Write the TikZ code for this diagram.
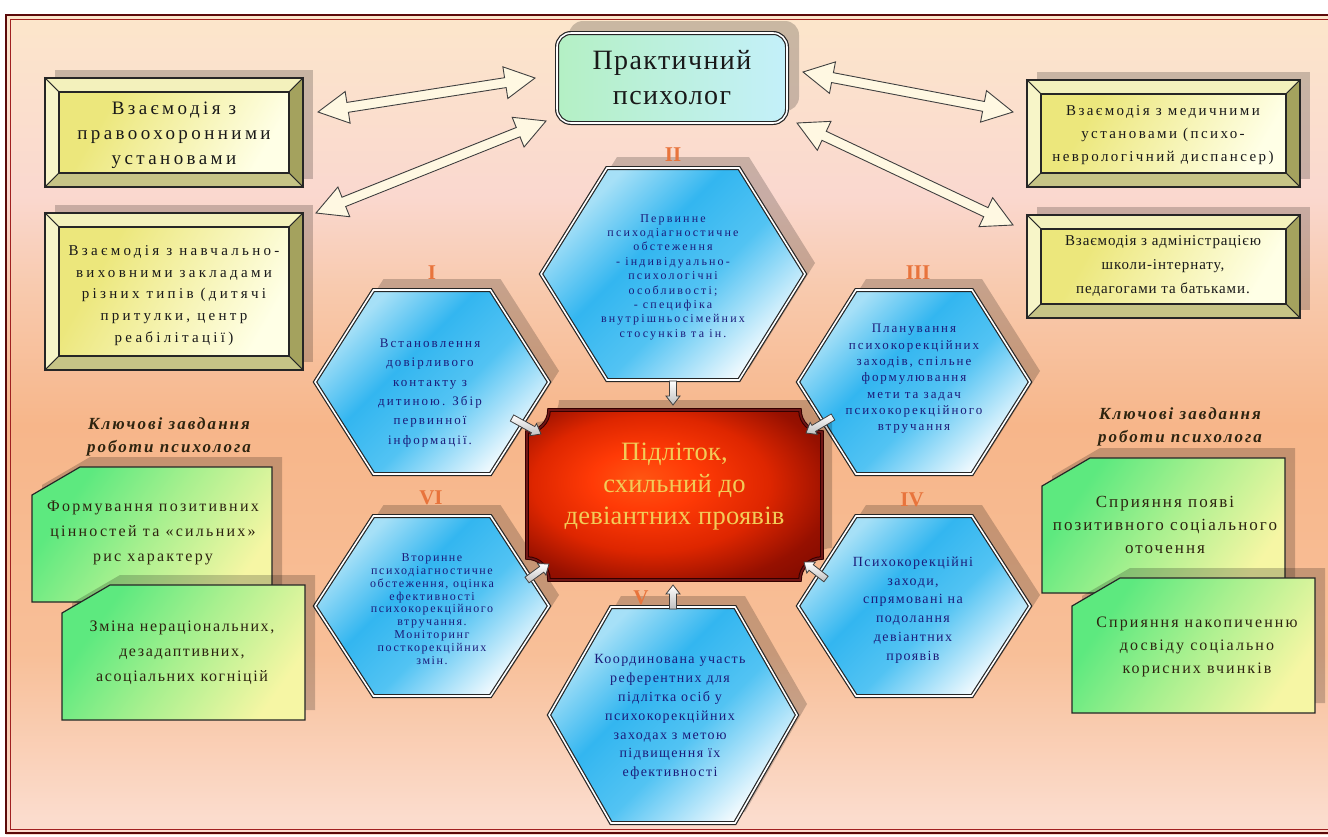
\documentclass[tikz,border=0pt]{standalone}
\usepackage{fontspec}
\setmainfont{Liberation Serif}
\usetikzlibrary{calc}
\definecolor{bgA}{HTML}{FBDCCD}
\definecolor{bgB}{HTML}{F8BF98}
\definecolor{bgC}{HTML}{F7B68A}
\definecolor{bgD}{HTML}{F8C9AC}
\definecolor{bgE}{HTML}{FAD8CF}
\definecolor{bgF}{HTML}{FCE6CB}
\definecolor{hxA}{HTML}{A6E0F7}
\definecolor{hxB}{HTML}{33B6F0}
\definecolor{hxC}{HTML}{52C3F3}
\definecolor{hxD}{HTML}{F2FAFE}
\definecolor{grA}{HTML}{5DE97F}
\definecolor{grB}{HTML}{A9F08F}
\definecolor{grC}{HTML}{F6F6A4}
\definecolor{ylA}{HTML}{ECE77C}
\definecolor{ylB}{HTML}{FFFFE6}
\definecolor{bevT}{HTML}{F3F1BC}
\definecolor{bevL}{HTML}{F7F5C8}
\definecolor{bevR}{HTML}{A4A25E}
\definecolor{bevB}{HTML}{C6C486}
\definecolor{hexink}{HTML}{1C1C7A}
\definecolor{romanc}{HTML}{E8743C}
\definecolor{gink}{HTML}{2E2410}
\definecolor{plaqink}{HTML}{F2CC58}
\definecolor{framedark}{HTML}{5C0A0A}
\definecolor{framered}{HTML}{A02020}
\definecolor{arrfill}{HTML}{FFF8E2}
\definecolor{psyA}{HTML}{B4F0C4}
\definecolor{psyB}{HTML}{E6FAF2}
\definecolor{psyC}{HTML}{C4F0FA}
\definecolor{plA}{HTML}{FF5512}
\definecolor{plB}{HTML}{FF3A06}
\definecolor{plC}{HTML}{DE2600}
\definecolor{plD}{HTML}{961000}
\definecolor{plE}{HTML}{6E0600}
\pgfdeclareverticalshading{bgshade}{100bp}{color(0bp)=(bgA); color(26bp)=(bgA); color(36bp)=(bgB); color(50bp)=(bgC); color(58bp)=(bgD); color(64bp)=(bgE); color(75bp)=(bgF); color(100bp)=(bgF)}
\pgfdeclarehorizontalshading{hexshade}{100bp}{color(0bp)=(hxA); color(27bp)=(hxA); color(42bp)=(hxB); color(56bp)=(hxC); color(75bp)=(hxD); color(100bp)=(hxD)}
\pgfdeclarehorizontalshading{grshade}{100bp}{color(0bp)=(grA); color(28bp)=(grA); color(50bp)=(grB); color(75bp)=(grC); color(100bp)=(grC)}
\pgfdeclarehorizontalshading{ylshade}{100bp}{color(0bp)=(ylA); color(30bp)=(ylA); color(75bp)=(ylB); color(100bp)=(ylB)}
\pgfdeclareradialshading{plaqshade}{\pgfpoint{-6bp}{5bp}}{color(0bp)=(plA); color(9bp)=(plB); color(20bp)=(plC); color(30bp)=(plD); color(42bp)=(plE); color(60bp)=(plE)}
\newcommand\lsfont[3]{\fontsize{#1}{#2}\selectfont\addfontfeatures{LetterSpace=#3}}
\newcommand\hexpath[4]{({#1-#3},{-#2}) -- ({#1-#3/2},{-#2+#4}) -- ({#1+#3/2},{-#2+#4}) -- ({#1+#3},{-#2}) -- ({#1+#3/2},{-#2-#4}) -- ({#1-#3/2},{-#2-#4}) -- cycle}
\newcommand\hexshape[4]{%
  \fill[shadowc, xshift=10pt, yshift=11pt] \hexpath{#1}{#2}{#3}{#4};
  \path[shading=hexshade, shading angle=-45] \hexpath{#1}{#2}{#3}{#4};
  \draw[hexborder] \hexpath{#1}{#2}{#3}{#4};}
\newcommand\bevel[4]{%
  \fill[shadowc] ({#1+10},{-#2+8}) rectangle ({#3+10},{-#4+8});
  \filldraw[bevline, fill=bevT] (#1,-#2) -- (#3,-#2) -- ({#3-14},{-#2-14}) -- ({#1+14},{-#2-14}) -- cycle;
  \filldraw[bevline, fill=bevL] (#1,-#2) -- ({#1+14},{-#2-14}) -- ({#1+14},{-#4+14}) -- (#1,-#4) -- cycle;
  \filldraw[bevline, fill=bevR] (#3,-#2) -- (#3,-#4) -- ({#3-14},{-#4+14}) -- ({#3-14},{-#2-14}) -- cycle;
  \filldraw[bevline, fill=bevB] (#1,-#4) -- ({#1+14},{-#4+14}) -- ({#3-14},{-#4+14}) -- (#3,-#4) -- cycle;
  \path[shading=ylshade, shading angle=-30] ({#1+14},{-#2-14}) rectangle ({#3-14},{-#4+14});
  \draw[line width=1.3pt, black!85] ({#1+14},{-#2-14}) rectangle ({#3-14},{-#4+14});
  \draw[line width=1.1pt, black!85] (#1,-#2) rectangle (#3,-#4);}
\newcommand\gpath[4]{({#1+48},-#2) -- (#3,-#2) -- (#3,-#4) -- (#1,-#4) -- (#1,{-#2-28}) -- cycle}
\newcommand\gshape[4]{%
  \fill[shadowc, xshift=10pt, yshift=10pt] \gpath{#1}{#2}{#3}{#4};
  \path[shading=grshade, shading angle=-35] \gpath{#1}{#2}{#3}{#4};
  \draw[line width=1.2pt, black!85] \gpath{#1}{#2}{#3}{#4};}
\newcommand\plaqpath{(527,-558) -- (527,-432) arc[start angle=270, end angle=360, radius=22pt] -- (800,-410) arc[start angle=180, end angle=270, radius=22pt] -- (822,-558) arc[start angle=90, end angle=180, radius=22pt] -- (549,-580) arc[start angle=0, end angle=90, radius=22pt] -- cycle}
\newcommand\dblarrow[2]{%
\draw[bigarr] let \p1=(#1), \p2=(#2), \n1={atan2(\y2-\y1,\x2-\x1)}, \n2={veclen(\x2-\x1,\y2-\y1)} in
 (\p1) -- ($(\p1)+(\n1:30pt)+(\n1+90:16pt)$) -- ($(\p1)+(\n1:30pt)+(\n1+90:5pt)$)
 -- ($(\p1)+(\n1:{\n2*1pt-30pt})+(\n1+90:5pt)$) -- ($(\p1)+(\n1:{\n2*1pt-30pt})+(\n1+90:16pt)$)
 -- (\p2) -- ($(\p1)+(\n1:{\n2*1pt-30pt})+(\n1-90:16pt)$) -- ($(\p1)+(\n1:{\n2*1pt-30pt})+(\n1-90:5pt)$)
 -- ($(\p1)+(\n1:30pt)+(\n1-90:5pt)$) -- ($(\p1)+(\n1:30pt)+(\n1-90:16pt)$) -- cycle;}
\newcommand\smallarrow[2]{%
\draw[smarr] let \p1=(#1), \p2=(#2), \n1={atan2(\y2-\y1,\x2-\x1)}, \n2={veclen(\x2-\x1,\y2-\y1)} in
 ($(\p1)+(\n1+90:3.5pt)$) -- ($(\p1)+(\n1:{\n2*1pt-9pt})+(\n1+90:3.5pt)$) -- ($(\p1)+(\n1:{\n2*1pt-9pt})+(\n1+90:7pt)$)
 -- (\p2) -- ($(\p1)+(\n1:{\n2*1pt-9pt})+(\n1-90:7pt)$) -- ($(\p1)+(\n1:{\n2*1pt-9pt})+(\n1-90:3.5pt)$)
 -- ($(\p1)+(\n1-90:3.5pt)$) -- cycle;}
\begin{document}
\begin{tikzpicture}[x=1pt,y=1pt,
  shadowc/.style={fill=black, fill opacity=0.2, draw=none},
  hexborder/.style={draw=black!85, double=white, double distance=1.6pt, line width=1.2pt},
  bevline/.style={draw=black!85, line width=0.9pt},
  bigarr/.style={draw=black!75, line width=0.9pt, fill=arrfill},
  smarr/.style={draw=black!75, line width=0.8pt, top color=white, bottom color=black!25},
  hextext/.style={text=hexink, align=center, inner sep=0pt},
  ytext/.style={text=black!90, align=center, inner sep=0pt},
  gtext/.style={text=gink, align=center, inner sep=0pt},
  roman/.style={text=romanc, font=\fontsize{21}{21}\selectfont\bfseries, inner sep=0pt},
  ktitle/.style={text=gink, align=center, inner sep=0pt, font=\lsfont{17}{23}{12}\bfseries\itshape}]
\useasboundingbox (0,0) rectangle (1328,-836);
\fill[white] (0,0) rectangle (1328,-836);
\fill[shading=bgshade] (6,-15) rectangle (1334,-834);
\draw[framedark, line width=2.4pt] (6,-15) rectangle (1334,-833);
\draw[framered, line width=1pt] (10,-19) rectangle (1334,-829);

% yellow bevel boxes
\bevel{45}{78}{303}{187}
\node[ytext, font=\lsfont{19}{25}{18}] (law) at (174,-135) {Взаємодія з\\правоохоронними\\установами};
\bevel{45}{213}{303}{370}
\node[ytext, font=\lsfont{15}{21.7}{22}] (edu) at (174,-295.5) {Взаємодія з навчально-\\виховними закладами\\різних типів (дитячі\\притулки, центр\\реабілітації)};
\bevel{1027}{80}{1300}{187}
\node[ytext, font=\lsfont{15}{23}{16}] (med) at (1163,-135) {Взаємодія з медичними\\установами (психо-\\неврологічний диспансер)};
\bevel{1027}{215}{1300}{318}
\node[ytext, font=\lsfont{15}{24}{6}] (adm) at (1163,-266) {Взаємодія з адміністрацією\\школи-інтернату,\\педагогами та батьками.};

% title box
\fill[shadowc, rounded corners=14pt] (569,-21) rectangle (799,-111);
\node[draw=black!85, double=white, double distance=1.6pt, line width=1.2pt, rounded corners=14pt,
  left color=psyA, middle color=psyB, right color=psyC, minimum width=230, minimum height=90,
  align=center, inner sep=0pt, text=black!90, font=\lsfont{28}{35}{5}] (psy) at (672,-78) {\rule{0pt}{8pt}Практичний\\психолог};

% big double arrows
\coordinate (ulA) at (318,-112); \coordinate (ulB) at (535,-78);
\coordinate (llA) at (316,-213); \coordinate (llB) at (546,-121);
\coordinate (urA) at (803,-72);  \coordinate (urB) at (1013,-112);
\coordinate (lrA) at (797,-123); \coordinate (lrB) at (1013,-225);
\dblarrow{ulA}{ulB}
\dblarrow{llA}{llB}
\dblarrow{urA}{urB}
\dblarrow{lrA}{lrB}

% hexagons
\hexshape{673}{274}{132}{106}
\hexshape{432}{382}{117}{92}
\hexshape{914}{382}{116}{92}
\hexshape{432}{606}{117}{90}
\hexshape{914}{606}{116}{90}
\hexshape{673}{715}{124}{108}
\node[hextext, font=\lsfont{12}{14.4}{18}] (h2) at (673,-277) {Первинне\\психодіагностичне\\обстеження\\- індивідуально-\\психологічні\\особливості;\\- специфіка\\внутрішньосімейних\\стосунків та ін.};
\node[hextext, font=\lsfont{13}{19.4}{16}] (h1) at (430,-393) {Встановлення\\довірливого\\контакту з\\дитиною. Збір\\первинної\\інформації.};
\node[hextext, font=\lsfont{13}{16.3}{15}] (h3) at (914,-379) {Планування\\психокорекційних\\заходів, спільне\\формулювання\\мети та задач\\психокорекційного\\втручання};
\node[hextext, font=\lsfont{12}{12.8}{13}] (h6) at (432,-609) {Вторинне\\психодіагностичне\\обстеження, оцінка\\ефективності\\психокорекційного\\втручання.\\Моніторинг\\посткорекційних\\змін.};
\node[hextext, font=\lsfont{14}{18.8}{10}] (h4) at (913,-610) {Психокорекційні\\заходи,\\спрямовані на\\подолання\\девіантних\\проявів};
\node[hextext, font=\lsfont{14}{18.9}{10}] (h5) at (670,-717) {Координована участь\\референтних для\\підлітка осіб у\\психокорекційних\\заходах з метою\\підвищення їх\\ефективності};

% roman labels
\node[roman] (r2) at (673,-155) {II};
\node[roman] (r1) at (432,-273) {I};
\node[roman] (r3) at (918,-273) {III};
\node[roman] (r6) at (431,-498) {VI};
\node[roman] (r4) at (912,-500) {IV};
\node[roman] (r5) at (641,-598) {V};

% central plaque
\fill[shadowc, xshift=10pt, yshift=10pt] \plaqpath;
\path[shading=plaqshade] \plaqpath;
\draw[draw=black!80!red, double=framered!70!black, double distance=1.6pt, line width=1pt] \plaqpath;
\node[text=plaqink, align=center, inner sep=0pt, minimum width=295, minimum height=170, font=\lsfont{26.5}{32}{1}] (teen) at (674.5,-487) {Підліток,\\схильний до\\девіантних проявів};

% small arrows into the plaque
\coordinate (s2a) at (673,-381); \coordinate (s2b) at (673,-405);
\coordinate (s1a) at (512,-418); \coordinate (s1b) at (541,-434);
\coordinate (s3a) at (833,-417); \coordinate (s3b) at (806,-433);
\coordinate (s6a) at (527,-580); \coordinate (s6b) at (549,-564);
\coordinate (s4a) at (826,-579); \coordinate (s4b) at (804,-562);
\coordinate (s5a) at (673,-609); \coordinate (s5b) at (673,-585);
\smallarrow{s2a}{s2b}
\smallarrow{s1a}{s1b}
\smallarrow{s3a}{s3b}
\smallarrow{s6a}{s6b}
\smallarrow{s4a}{s4b}
\smallarrow{s5a}{s5b}

% key tasks
\node[ktitle] (kl) at (169,-436.5) {Ключові завдання\\роботи психолога};
\node[ktitle] (kr) at (1180,-426.5) {Ключові завдання\\роботи психолога};
\gshape{32}{467}{272}{602}
\node[gtext, font=\lsfont{16}{25}{14}] (g1) at (153,-533) {Формування позитивних\\цінностей та «сильних»\\рис характеру};
\gshape{62}{585}{305}{720}
\node[gtext, font=\lsfont{16}{25}{10}] (g2) at (182,-653) {Зміна нераціональних,\\дезадаптивних,\\асоціальних когніцій};
\gshape{1042}{458}{1285}{593}
\node[gtext, font=\lsfont{17}{23}{12}] (g3) at (1165,-525) {Сприяння появі\\позитивного соціального\\оточення};
\gshape{1072}{578}{1315}{713}
\node[gtext, font=\lsfont{16}{23}{13}] (g4) at (1197,-647) {Сприяння накопиченню\\досвіду соціально\\корисних вчинків};
\end{tikzpicture}
\end{document}
